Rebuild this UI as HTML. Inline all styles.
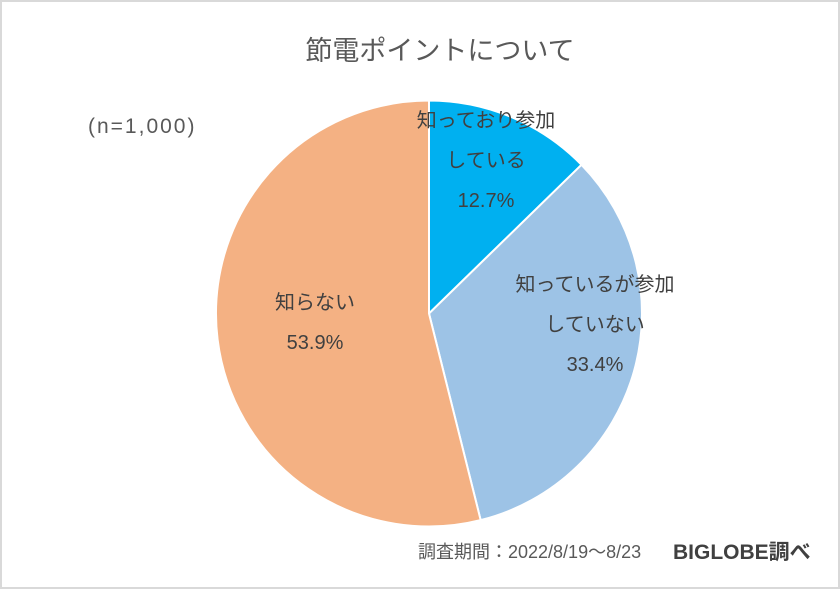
<!DOCTYPE html>
<html><head><meta charset="utf-8"><style>
html,body{margin:0;padding:0;background:#fff}
#wrap{position:relative;width:840px;height:589px;box-sizing:border-box;border:2px solid #d9d9d9;background:#fff;font-family:"Liberation Sans","Noto Sans CJK JP",sans-serif;color:#595959}
svg{position:absolute;left:-2px;top:-2px}
</style></head><body>
<div id="wrap">
<svg id="chart" width="840" height="589">
<text x="440" y="60" text-anchor="middle" font-size="27" fill="#595959" font-family="Liberation Sans, Noto Sans CJK JP, sans-serif">節電ポイントについて</text>
<text x="88" y="133" font-size="21" letter-spacing="2" fill="#595959" font-family="Liberation Sans, Noto Sans CJK JP, sans-serif">(n=1,000)</text>
<text x="418" y="558" font-size="18" fill="#595959" font-family="Liberation Sans, Noto Sans CJK JP, sans-serif">調査期間：2022/8/19～8/23</text>
<text x="673" y="559" font-size="21" font-weight="bold" fill="#404040" font-family="Liberation Sans, Noto Sans CJK JP, sans-serif">BIGLOBE調べ</text>
<g id="slices"></g>
<g id="labels"></g>
</svg>
</div>
<script>
const categories = ["知っており参加\nしている", "知っているが参加\nしていない", "知らない"];
const values = [12.7, 33.4, 53.9];
const valueLabels = ["12.7%", "33.4%", "53.9%"];
const colors = ["#00b0f0", "#9dc3e6", "#f4b183"];
const labelPos = [[486,127],[595,291],[315,309]];
const cx = 429, cy = 313.5, r = 213;
const NS = "http://www.w3.org/2000/svg";
const total = values.reduce((a,b)=>a+b,0);
let acc = 0;
const sg = document.getElementById('slices'), lg = document.getElementById('labels');
function pt(f){const a=f*2*Math.PI;return [cx+r*Math.sin(a), cy-r*Math.cos(a)];}
values.forEach((v,i)=>{
  const f0=acc/total; acc+=v; const f1=acc/total;
  const p0=pt(f0), p1=pt(f1);
  const large=(f1-f0)>0.5?1:0;
  const p=document.createElementNS(NS,'path');
  p.setAttribute('d',`M${cx},${cy} L${p0[0]},${p0[1]} A${r},${r} 0 ${large} 1 ${p1[0]},${p1[1]} Z`);
  p.setAttribute('fill',colors[i]);
  p.setAttribute('stroke','#fff');
  p.setAttribute('stroke-width','2');
  
  
  sg.appendChild(p);
  const lines=categories[i].split('\n').concat([valueLabels[i]]);
  const [lx,ly]=labelPos[i];
  lines.forEach((t,j)=>{
    const tx=document.createElementNS(NS,'text');
    tx.setAttribute('x',lx);tx.setAttribute('y',ly+j*40);
    tx.setAttribute('text-anchor','middle');tx.setAttribute('font-size','20');
    tx.setAttribute('fill','#404040');
    tx.setAttribute('font-family','Liberation Sans, Noto Sans CJK JP, sans-serif');
    tx.textContent=t;
    
    
    lg.appendChild(tx);
  });
});
</script>
</body></html>
